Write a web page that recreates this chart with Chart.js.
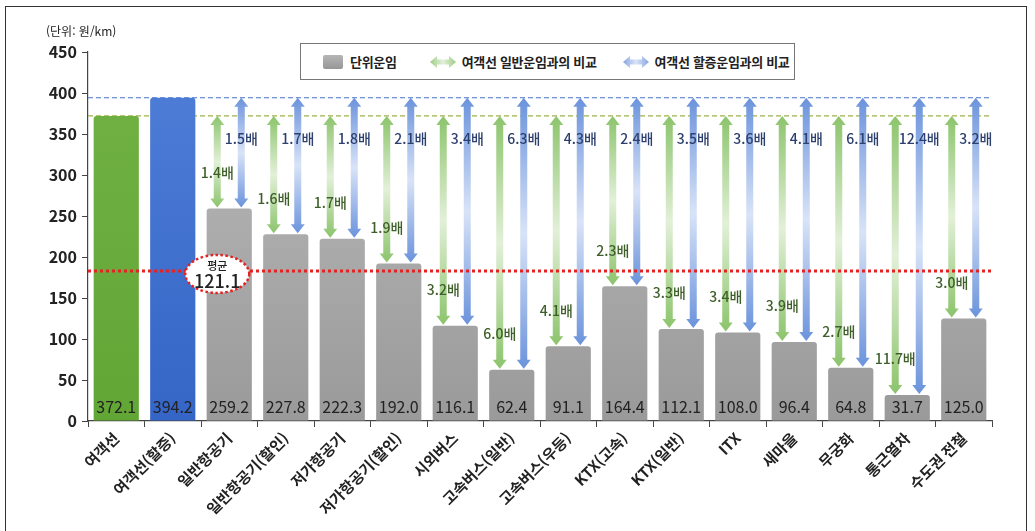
<!DOCTYPE html>
<html lang="ko">
<head>
<meta charset="utf-8">
<script src="https://cdn.jsdelivr.net/npm/chart.js@4"></script>
<style>
  html, body { margin: 0; padding: 0; background: #fff; }
  #wrap { position: relative; width: 1035px; height: 531px; overflow: hidden; font-family: "Noto Sans CJK KR", "Noto Sans", sans-serif; }
  #frame { position: absolute; left: 5px; top: 6px; width: 1022px; height: 540px; border: 1.5px solid #333; box-sizing: border-box; pointer-events: none; }
  #unit { position: absolute; left: 46px; top: 22px; font-size: 12px; color: #222; }
  #legend { position: absolute; left: 300px; top: 43px; width: 495px; height: 37px; border: 1.5px solid #777; box-sizing: border-box; background: #fff;
            display: flex; align-items: center; font-size: 13px; font-weight: 700; color: #222; letter-spacing: -0.3px; }
  .item { display: flex; align-items: center; }
  .sw { width: 20px; height: 14px; border-radius: 2px; background: linear-gradient(#b5b5b5, #979797); margin: 0 7px 0 22px; }
  .ar { margin: 0 6px 0 0; }
  canvas { position: absolute; left: 0; top: 0; }
</style>
</head>
<body>
<div id="wrap">
  <canvas id="fareChart" width="1035" height="531"></canvas>
  <div id="unit">(단위: 원/km)</div>
  <div id="legend">
    <div class="item"><span class="sw"></span>단위운임</div>
    <div class="item" style="margin-left:33px">
      <svg class="ar" width="26" height="14" viewBox="0 0 26 14">
        <defs><linearGradient id="lg1" x1="0" x2="1"><stop offset="0" stop-color="#9fcc85"/><stop offset="0.5" stop-color="#e3f0da"/><stop offset="1" stop-color="#9fcc85"/></linearGradient></defs>
        <polygon points="0,7 7,1 7,4.5 19,4.5 19,1 26,7 19,13 19,9.5 7,9.5 7,13" fill="url(#lg1)"/>
      </svg>여객선 일반운임과의 비교</div>
    <div class="item" style="margin-left:26px">
      <svg class="ar" width="26" height="14" viewBox="0 0 26 14">
        <defs><linearGradient id="lg2" x1="0" x2="1"><stop offset="0" stop-color="#87a5e2"/><stop offset="0.5" stop-color="#dbe4f7"/><stop offset="1" stop-color="#87a5e2"/></linearGradient></defs>
        <polygon points="0,7 7,1 7,4.5 19,4.5 19,1 26,7 19,13 19,9.5 7,9.5 7,13" fill="url(#lg2)"/>
      </svg>여객선 할증운임과의 비교</div>
  </div>
  <div id="frame"></div>
</div>
<script>
// 교통수단별 단위운임 비교 (원/km)
const categories = ['여객선', '여객선(할증)', '일반항공기', '일반항공기(할인)', '저가항공기', '저가항공기(할인)',
  '시외버스', '고속버스(일반)', '고속버스(우등)', 'KTX(고속)', 'KTX(일반)', 'ITX', '새마을', '무궁화', '통근열차', '수도권 전철'];
const unitFares = [372.1, 394.2, 259.2, 227.8, 222.3, 192.0, 116.1, 62.4, 91.1, 164.4, 112.1, 108.0, 96.4, 64.8, 31.7, 125.0];
// 여객선 일반운임 / 할증운임 대비 배수
const vsNormal = [null, null, 1.4, 1.6, 1.7, 1.9, 3.2, 6.0, 4.1, 2.3, 3.3, 3.4, 3.9, 2.7, 11.7, 3.0];
const vsSurcharge = [null, null, 1.5, 1.7, 1.8, 2.1, 3.4, 6.3, 4.3, 2.4, 3.5, 3.6, 4.1, 6.1, 12.4, 3.2];
const normalFare = 372.1;
const surchargeFare = 394.2;
const avgLineValue = 183;   // 그림에서 점선이 그려진 높이
const avgLabel = '121.1';
const yMin = 0, yMax = 450, yStep = 50;

const FONT = '"Noto Sans CJK KR", "Noto Sans", sans-serif';

function barFill(ctx) {
  const chart = ctx.chart;
  const area = chart.chartArea;
  if (!area) return '#aaa';
  const g = chart.ctx.createLinearGradient(0, area.top, 0, area.bottom);
  if (ctx.dataIndex === 0) {
    g.addColorStop(0, '#72b244'); g.addColorStop(1, '#62a636');
  } else if (ctx.dataIndex === 1) {
    g.addColorStop(0, '#4f7fd8'); g.addColorStop(1, '#3565c6');
  } else {
    g.addColorStop(0, '#bcbcbc'); g.addColorStop(1, '#9a9a9a');
  }
  return g;
}

// double-headed vertical arrow with a faded middle
function drawArrow(ctx, x, yTop, yBot, cEnd, cMid) {
  const sw = 3.5, hw = 7, hl = 9;
  const g = ctx.createLinearGradient(0, yTop, 0, yBot);
  g.addColorStop(0, cEnd); g.addColorStop(0.5, cMid); g.addColorStop(1, cEnd);
  ctx.beginPath();
  ctx.moveTo(x, yTop);
  ctx.lineTo(x + hw, yTop + hl);
  ctx.lineTo(x + sw, yTop + hl);
  ctx.lineTo(x + sw, yBot - hl);
  ctx.lineTo(x + hw, yBot - hl);
  ctx.lineTo(x, yBot);
  ctx.lineTo(x - hw, yBot - hl);
  ctx.lineTo(x - sw, yBot - hl);
  ctx.lineTo(x - sw, yTop + hl);
  ctx.lineTo(x - hw, yTop + hl);
  ctx.closePath();
  ctx.fillStyle = g;
  ctx.fill();
}

const overlay = {
  id: 'overlay',
  beforeDatasetsDraw(chart) {
    const { ctx, chartArea: a, scales: { y } } = chart;
    ctx.save();
    ctx.lineWidth = 1.2;
    ctx.setLineDash([5, 3]);
    ctx.strokeStyle = '#4a70d0';
    let py = y.getPixelForValue(surchargeFare);
    ctx.beginPath(); ctx.moveTo(a.left, py); ctx.lineTo(a.right, py); ctx.stroke();
    ctx.strokeStyle = '#9cb44a';
    py = y.getPixelForValue(normalFare);
    ctx.beginPath(); ctx.moveTo(a.left, py); ctx.lineTo(a.right, py); ctx.stroke();
    ctx.restore();
  },
  afterDatasetsDraw(chart) {
    const { ctx, chartArea: a, scales: { x, y } } = chart;
    const meta = chart.getDatasetMeta(0);
    const yNormal = y.getPixelForValue(normalFare);
    const ySurch = y.getPixelForValue(surchargeFare);
    ctx.save();
    ctx.textAlign = 'center';
    ctx.textBaseline = 'middle';

    // arrows + ratio labels
    unitFares.forEach((v, i) => {
      if (vsNormal[i] == null) return;
      const cx = x.getPixelForValue(i);
      const top = y.getPixelForValue(v);
      drawArrow(ctx, cx - 12, yNormal, top - 1, '#8cc46c', '#e2f0d8');
      drawArrow(ctx, cx + 12, ySurch, top - 1, '#6b93dc', '#d8e3f7');
    });
    ctx.font = '500 14px ' + FONT;
    unitFares.forEach((v, i) => {
      if (vsNormal[i] == null) return;
      const cx = x.getPixelForValue(i);
      const top = y.getPixelForValue(v);
      ctx.fillStyle = '#3f5f2a';
      ctx.fillText(vsNormal[i].toFixed(1) + '배', cx - 12, top - 36);
      ctx.fillStyle = '#2d3f6e';
      ctx.fillText(vsSurcharge[i].toFixed(1) + '배', cx + 12, ySurch + 41);
    });

    // values inside the bars
    ctx.font = '16px ' + FONT;
    ctx.fillStyle = '#222';
    meta.data.forEach((bar, i) => {
      ctx.fillText(unitFares[i].toFixed(1), bar.x, a.bottom - 14);
    });

    // average line
    const ay = y.getPixelForValue(avgLineValue);
    ctx.strokeStyle = '#e42222';
    ctx.lineWidth = 3;
    ctx.setLineDash([3, 3]);
    ctx.beginPath(); ctx.moveTo(a.left, ay); ctx.lineTo(a.right, ay); ctx.stroke();

    // average bubble
    const ex = x.getPixelForValue(2) - 12, ey = ay + 3;
    ctx.beginPath();
    ctx.ellipse(ex, ey, 32, 19, 0, 0, Math.PI * 2);
    ctx.fillStyle = '#fff';
    ctx.fill();
    ctx.lineWidth = 2.5;
    ctx.setLineDash([2.5, 2.5]);
    ctx.stroke();
    ctx.setLineDash([]);
    ctx.fillStyle = '#222';
    ctx.font = '500 11px ' + FONT;
    ctx.fillText('평균', ex, ey - 8);
    ctx.font = '500 18px ' + FONT;
    ctx.fillText(avgLabel, ex, ey + 7);
    ctx.restore();
  }
};

new Chart(document.getElementById('fareChart'), {
  type: 'bar',
  data: {
    labels: categories,
    datasets: [{
      data: unitFares,
      backgroundColor: barFill,
      borderRadius: { topLeft: 3, topRight: 3 },
      borderSkipped: 'bottom',
      categoryPercentage: 1,
      barPercentage: 0.8
    }]
  },
  options: {
    responsive: false,
    animation: false,
    devicePixelRatio: 1,
    layout: { padding: { top: 52, right: 43, left: 0, bottom: 0 } },
    plugins: { legend: { display: false }, tooltip: { enabled: false } },
    scales: {
      x: {
        afterFit: s => { s.height = 110; },
        grid: { drawOnChartArea: false, tickLength: 6, color: '#444', offset: true },
        border: { color: '#444', width: 1.2 },
        ticks: {
          color: '#222', maxRotation: 45, minRotation: 45, autoSkip: false, padding: 2,
          font: { family: FONT, size: 15, weight: 'bold' }
        }
      },
      y: {
        min: yMin, max: yMax,
        afterFit: s => { s.width = 88; },
        grid: { drawOnChartArea: false, tickLength: 6, color: '#444' },
        border: { color: '#444', width: 1.2 },
        ticks: {
          stepSize: yStep, color: '#222', padding: 5,
          font: { family: FONT, size: 16, weight: '600' }
        }
      }
    }
  },
  plugins: [overlay]
});
</script>
</body>
</html>
